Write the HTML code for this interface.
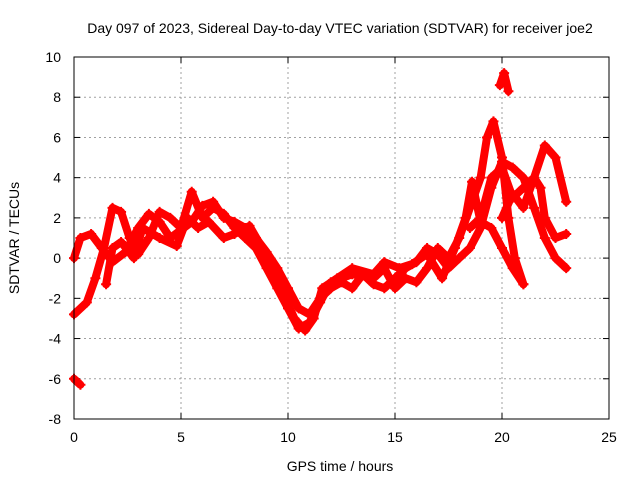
<!DOCTYPE html>
<html><head><meta charset="utf-8"><style>
html,body{margin:0;padding:0;background:#fff;}
svg text{font-family:"Liberation Sans",sans-serif;font-size:14px;fill:#000;}
</style></head><body>
<svg id="chart" width="640" height="480" xmlns="http://www.w3.org/2000/svg">
<rect width="640" height="480" fill="#fff"/>
<text x="340" y="33" text-anchor="middle">Day 097 of 2023, Sidereal Day-to-day VTEC variation (SDTVAR) for receiver joe2</text>
<text x="340" y="471" text-anchor="middle">GPS time / hours</text>
<text transform="translate(19,238) rotate(-90)" text-anchor="middle">SDTVAR / TECUs</text>
<g id="grid"></g><g id="ticks"></g><g id="series"></g>
<rect x="74" y="57" width="535" height="362" fill="none" stroke="#000" stroke-width="1"/>
</svg>
<script>
const xTicks=[0,5,10,15,20,25];
const yTicks=[-8,-6,-4,-2,0,2,4,6,8,10];
const track1=[[0,-2.8],[0.6,-2.2],[1.0,-1.0],[1.4,0.5],[1.8,2.5],[2.2,2.3],[2.6,1.0],[3.0,0.2],[3.5,1.0],[4.0,2.3],[4.5,2.0],[5.0,1.5],[5.5,3.3],[6.0,2.0],[6.5,2.5],[7.0,2.2],[7.5,1.5],[8.0,1.0],[8.5,0.5],[9.0,-0.5],[9.5,-1.5],[10,-2.5],[10.5,-3.5],[11,-3.2],[11.5,-2.2],[12,-1.2],[12.5,-1.0],[13,-0.8],[14,-1.0],[14.5,-0.5],[15,-1.5],[15.5,-1.0],[16,-1.2],[16.5,-0.5],[17,0.5],[17.5,0],[18,1.0],[18.5,2.5],[19,4.0],[19.3,6.0],[19.6,6.8],[20,5.0],[20.3,2.0],[20.6,0],[21,-1.3]];
const track2=[[0,0],[0.3,1.0],[0.8,1.2],[1.3,0.5],[1.8,-0.2],[2.4,0.3],[3,1.5],[3.5,2.2],[4,1.8],[4.5,1.0],[5,1.4],[5.5,1.8],[6,2.6],[6.5,2.8],[7,2.0],[7.5,1.8],[8,1.5],[8.5,1.0],[9,0.3],[9.5,-0.5],[10,-1.5],[10.5,-2.5],[11,-2.8],[11.5,-2.0],[12,-1.5],[12.5,-1.2],[13,-1.5],[13.5,-0.8],[14,-1.3],[14.5,-1.5],[15,-1.0],[15.5,-0.5],[16,-0.2],[16.5,0.5],[17,0.2],[17.5,-0.5],[18,0],[18.5,0.5],[19,1.5],[19.5,3.5],[20,4.8],[20.5,4.5],[21,4.0],[21.5,2.5],[22,1.0],[22.5,0],[23,-0.5]];
const track3=[[1.5,-1.3],[1.8,0.5],[2.2,0.8],[2.8,0],[3.2,1.5],[4,1.0],[4.8,0.6],[5.3,2.0],[5.8,1.5],[6.3,1.8],[7,1.0],[7.5,1.2],[8.2,1.6],[8.8,0.5],[9.2,-0.5],[9.8,-1.8],[10.3,-3.0],[10.8,-3.6],[11.2,-3.0],[11.6,-1.5],[12.3,-1.0],[13,-0.5],[14,-0.8],[14.5,-0.2],[15.2,-0.5],[15.8,-0.3],[16.5,0.2],[17.2,-1.0],[17.8,0.5],[18.3,2.0],[18.6,3.8],[19,1.8],[19.5,1.5],[20,0.5],[20.5,-0.5],[21,-1.3]];
const track4=[[18.5,1.5],[19,2.0],[19.5,4.0],[20,4.5],[20.5,3.0],[21,3.5],[21.5,4.0],[21.8,3.5],[22,2.0],[22.5,1.0],[23,1.2]];
const track5=[[20,2.0],[20.5,3.2],[21,2.5],[21.5,4.0],[22,5.6],[22.5,5.0],[23,2.8]];
const track6=[[19.9,8.6],[20.1,9.2],[20.3,8.3]];
const track7=[[0,-6.0],[0.3,-6.3]];
const tracks=[track1,track2,track3,track4,track5,track6,track7];
const X0=74,X1=609,Y0=419,Y1=57;
const xs=v=>X0+(v-0)/(25-0)*(X1-X0);
const ys=v=>Y0-(v+8)/(18)*(Y0-Y1);
const NS="http://www.w3.org/2000/svg";
const grid=document.getElementById('grid'),ticks=document.getElementById('ticks'),ser=document.getElementById('series');
function mk(tag,attrs,parent){const e=document.createElementNS(NS,tag);for(const k in attrs)e.setAttribute(k,attrs[k]);parent.appendChild(e);return e;}
xTicks.forEach(t=>{const x=xs(t);
 if(t>0&&t<25){const g=mk('line',{x1:x,x2:x,y1:Y0,y2:Y1,stroke:'#a0a0a0','stroke-dasharray':'2,3'},grid);
 
 }
 mk('line',{x1:x,x2:x,y1:Y0,y2:Y0-6,stroke:'#000'},ticks);mk('line',{x1:x,x2:x,y1:Y1,y2:Y1+6,stroke:'#000'},ticks);
 const l=mk('text',{x:x,y:442,'text-anchor':'middle'},ticks);l.textContent=t;
 
 });
yTicks.forEach(t=>{const y=ys(t);
 if(t>-8&&t<10){const g=mk('line',{x1:X0,x2:X1,y1:y,y2:y,stroke:'#a0a0a0','stroke-dasharray':'2,3'},grid);
 
 }
 mk('line',{x1:X0,x2:X0+6,y1:y,y2:y,stroke:'#000'},ticks);mk('line',{x1:X1,x2:X1-6,y1:y,y2:y,stroke:'#000'},ticks);
 const l=mk('text',{x:61,y:y+5,'text-anchor':'end'},ticks);l.textContent=t;
 
 });
tracks.forEach((tr,i)=>{
 const pts=tr.map(p=>xs(p[0]).toFixed(1)+','+ys(p[1]).toFixed(1)).join(' ');
 const pl=mk('polyline',{points:pts,fill:'none',stroke:'#f00','stroke-width':8,'stroke-linejoin':'round','stroke-linecap':'round'},ser);
 
 
 tr.forEach(p=>{const x=xs(p[0]),y=ys(p[1]);
  const m=mk('path',{d:`M${x-5},${y}H${x+5}M${x},${y-5}V${y+5}`,stroke:'#f00','stroke-width':2},ser);
  
  });
});
</script>
</body></html>
